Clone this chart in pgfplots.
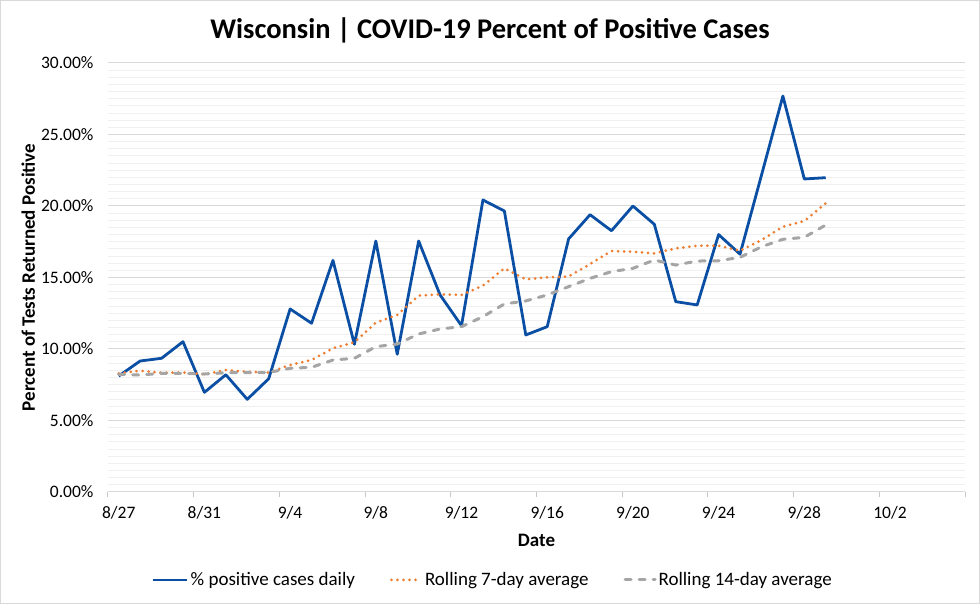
\documentclass[border=0pt]{standalone}
\usepackage{pgfplots}
\usepackage{pgfplotstable}
\pgfplotsset{compat=1.18}
\usepackage{fontspec}
\setmainfont{Carlito}
\definecolor{cblue}{RGB}{10,79,163}
\definecolor{corange}{RGB}{237,125,49}
\definecolor{cgray}{RGB}{165,165,165}
\definecolor{majgrid}{RGB}{217,217,217}
\definecolor{mingrid}{RGB}{240,240,240}
\definecolor{tickgray}{RGB}{200,200,200}
\pgfplotsset{
  shortleg/.style={legend image code/.code={\draw[##1] (0pt,0pt) -- (30pt,0pt);}},
  longleg/.style={legend image code/.code={\draw[##1] (0pt,0pt) -- (34pt,0pt);}},
}

\pgfplotstableread{
d daily r7 r14
0 8.11 8.30 8.23
1 9.16 8.48 8.18
2 9.35 8.34 8.30
3 10.51 8.36 8.30
4 6.97 8.23 8.25
5 8.20 8.53 8.34
6 6.48 8.41 8.34
7 7.92 8.36 8.36
8 12.80 8.88 8.65
9 11.80 9.23 8.72
10 16.20 10.05 9.23
11 10.33 10.47 9.35
12 17.55 11.84 10.16
13 9.63 12.38 10.35
14 17.55 13.73 11.05
15 13.78 13.82 11.40
16 11.63 13.78 11.56
17 20.42 14.43 12.26
18 19.65 15.64 13.15
19 10.98 14.87 13.36
20 11.56 15.01 13.78
21 17.70 15.08 14.36
22 19.39 15.94 14.94
23 18.27 16.85 15.41
24 20.00 16.80 15.64
25 18.72 16.69 16.22
26 13.31 17.04 15.87
27 13.08 17.22 16.15
28 18.00 17.22 16.17
29 16.63 16.87 16.41
30 22.15 17.62 17.15
31 27.69 18.55 17.67
32 21.89 18.95 17.81
33 21.98 20.19 18.67
}\datatab

\begin{document}
\begin{tikzpicture}
\useasboundingbox (0,0) rectangle (980pt,604pt);
\draw[majgrid, line width=1pt] (0.5pt,0.5pt) rectangle (979.5pt,603.5pt);
\node[font=\fontsize{28.5}{33}\selectfont\bfseries] at (490pt,574pt) {Wisconsin | COVID-19 Percent of Positive Cases};
\begin{axis}[
  at={(108pt,112pt)}, anchor=south west,
  scale only axis, width=857pt, height=429pt,
  xmin=-0.5, xmax=39.5, ymin=0, ymax=30,
  axis x line*=bottom, axis y line*=left,
  x axis line style={-, draw=majgrid, line width=1pt},
  y axis line style={draw=none},
  ymajorgrids, yminorgrids, minor y tick num=9,
  major grid style={majgrid, line width=1pt},
  minor grid style={mingrid, line width=1pt},
  ytick={0,5,...,30},
  yticklabels={0.00\%,5.00\%,10.00\%,15.00\%,20.00\%,25.00\%,30.00\%},
  xtick={-0.5,3.5,...,39.5},
  xticklabels={8/27,8/31,9/4,9/8,9/12,9/16,9/20,9/24,9/28,10/2,},
  xticklabel style={xshift=10.7pt, yshift=-6pt},
  tick align=outside,
  major tick length=5pt, minor tick length=0pt,
  xtick style={draw=tickgray, line width=1pt},
  ytick style={draw=none},
  tick label style={font=\fontsize{17.5}{21}\selectfont, text=black},
  yticklabel style={xshift=-6pt},
  xlabel={Date}, ylabel={Percent of Tests Returned Positive},
  label style={font=\fontsize{19}{23}\selectfont\bfseries},
  xlabel style={at={(axis description cs:0.5,-0.112)}, anchor=center},
  ylabel style={at={(axis description cs:-0.093,0.5)}, anchor=center},
  legend columns=3,
  legend cell align=left,
  shortleg,
  legend style={draw=none, fill=none, at={(axis description cs:0.449,-0.205)}, anchor=center,
    font=\fontsize{19}{23}\selectfont,
    /tikz/every even column/.append style={column sep=33pt}},
]
\addplot[cblue, line width=2.8pt, line join=round, longleg] table[x=d, y=daily] {\datatab};
\addlegendentry{\% positive cases daily}
\addplot[corange, line width=3pt, line cap=round, dash pattern=on 0pt off 6pt] table[x=d, y=r7] {\datatab};
\addlegendentry{Rolling 7-day average}
\addplot[cgray, line width=3pt, line cap=round, dash pattern=on 6pt off 8pt] table[x=d, y=r14] {\datatab};
\addlegendentry{Rolling 14-day average}
\end{axis}
\end{tikzpicture}
\end{document}
